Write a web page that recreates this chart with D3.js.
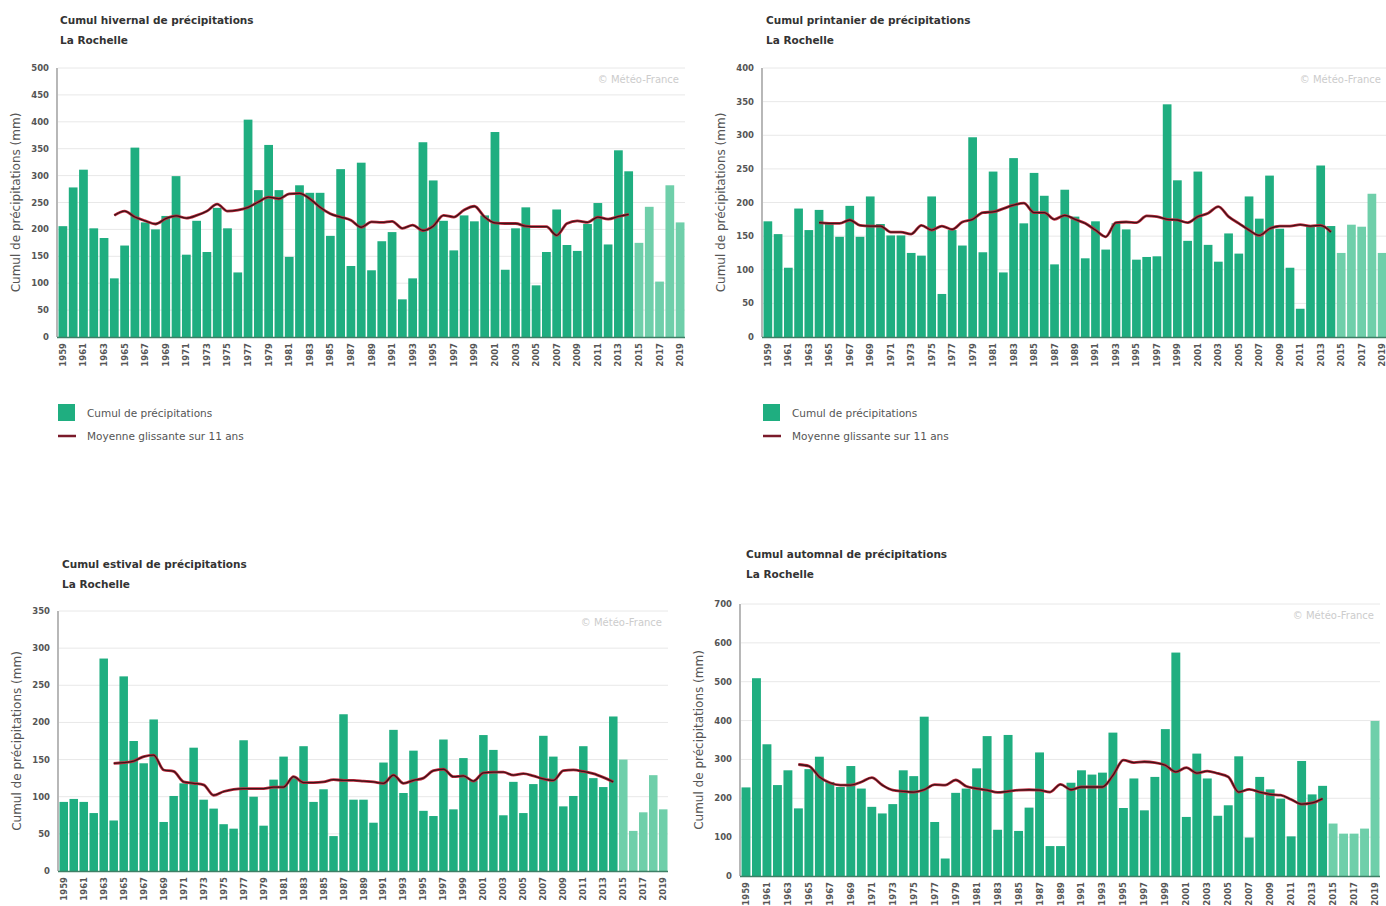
<!DOCTYPE html>
<html>
<head>
<meta charset="UTF-8">
<title>Cumuls saisonniers de précipitations - La Rochelle</title>
<script src="https://d3js.org/d3.v7.min.js"></script>
<style>
  body { margin: 0; background: #fff; }
  text { font-family: "DejaVu Sans", Verdana, sans-serif; }
</style>
</head>
<body>
<script>
// years 1959..2019
const years = d3.range(1959, 2020);
const movYears = d3.range(1964, 2015);
const lightFrom = 2015;

// winter
const hiver = [206,278,311,202,184,109,170,352,213,200, 225,299,153,216,158,240,202,120,404,273,
  357,273,149,282,268,268,188,312,132,324, 124,178,195,70,109,362,291,216,161,226,
  215,226,381,125,202,241,96,158,237,171, 160,210,249,172,347,308,175,242,103,282, 213];
const hiverMoy = [226,234,223,216,210,220,225,221,226,234, 247,234,236,241,251,260,257,266,267,257,
  241,229,223,217,204,214,213,215,202,208, 198,206,226,223,236,243,223,212,211,211,
  206,205,205,189,211,216,213,223,219,224, 228];

// spring
const printemps = [172,153,103,191,159,189,169,149,195,149, 209,168,151,151,125,121,209,64,159,136,
  297,126,246,96,266,169,244,210,108,219, 179,117,172,130,169,160,115,119,120,346,
  233,143,246,137,112,154,124,209,176,240, 161,103,42,164,255,165,125,167,164,213, 125];
const printempsMoy = [170,169,169,174,166,165,165,156,156,153, 166,159,165,160,171,175,185,186,191,196,
  199,185,185,175,181,175,169,159,149,170, 171,170,180,179,175,174,170,179,184,194,
  179,169,159,151,161,165,165,167,165,166, 156];

// summer
const ete = [93,97,93,78,286,68,262,175,145,204, 66,101,118,166,96,84,63,57,176,100,
  61,123,154,125,168,93,110,47,211,96, 96,65,146,190,105,162,81,74,177,83,
  152,122,183,163,75,120,78,117,182,154, 87,101,168,125,113,208,150,54,79,129, 83];
const eteMoy = [145,146,148,154,156,136,134,120,118,116, 102,107,110,111,111,111,113,113,127,119,
  119,120,123,122,122,121,120,118,129,118, 122,125,135,137,127,128,121,132,133,133,
  129,131,128,124,122,135,136,134,131,126, 120];

// autumn
const automne = [228,509,339,234,272,174,275,307,242,229, 283,225,178,161,185,272,257,410,139,45,
  214,225,277,360,119,363,116,176,318,77, 77,240,272,261,266,369,175,251,169,255,
  378,575,152,315,251,155,182,308,99,255, 223,199,102,296,210,232,135,109,109,122, 399];
const automneMoy = [287,283,255,240,234,234,242,253,234,221, 218,216,222,235,234,247,231,225,221,215,
  218,221,222,221,216,236,222,229,229,229, 259,298,292,294,292,285,268,279,265,270,
  264,255,216,223,216,210,208,197,185,188, 199];

const panels = [
  { title: "Cumul hivernal de précipitations", vals: hiver, moy: hiverMoy, max: 500, step: 50,
    x0: 58, x1: 685, yTop: 68, yBot: 337, tx: 60, ty: 20, legend: true },
  { title: "Cumul printanier de précipitations", vals: printemps, moy: printempsMoy, max: 400, step: 50,
    x0: 763, x1: 1387, yTop: 68, yBot: 337, tx: 766, ty: 20, legend: true },
  { title: "Cumul estival de précipitations", vals: ete, moy: eteMoy, max: 350, step: 50,
    x0: 59, x1: 668, yTop: 611, yBot: 871, tx: 62, ty: 564, legend: false },
  { title: "Cumul automnal de précipitations", vals: automne, moy: automneMoy, max: 700, step: 100,
    x0: 741, x1: 1380, yTop: 604, yBot: 876, tx: 746, ty: 554, legend: false }
];

const green = "#1fae80", lightGreen = "#6fcfaa";

const svg = d3.select("body").append("svg")
  .attr("width", 1386).attr("height", 906);

panels.forEach(p => {
  const g = svg.append("g");

  const x = d3.scaleBand().domain(years).range([p.x0, p.x1]).paddingInner(0.15).paddingOuter(0.05);
  const y = d3.scaleLinear().domain([0, p.max]).range([p.yBot, p.yTop]);
  const ticks = d3.range(0, p.max + 1, p.step);

  // titles
  g.append("text").attr("x", p.tx).attr("y", p.ty + 4)
    .attr("font-size", 10.5).attr("font-weight", "bold").attr("fill", "#333").text(p.title);
  g.append("text").attr("x", p.tx).attr("y", p.ty + 24)
    .attr("font-size", 10.5).attr("font-weight", "bold").attr("fill", "#333").text("La Rochelle");

  // grid
  g.selectAll(".grid").data(ticks.slice(1)).enter().append("line")
    .attr("x1", p.x0).attr("x2", p.x1)
    .attr("y1", d => y(d)).attr("y2", d => y(d))
    .attr("stroke", "#e8e8e8").attr("stroke-width", 1);

  // y labels
  g.selectAll(".ylab").data(ticks).enter().append("text")
    .attr("x", p.x0 - 9).attr("y", d => y(d) + 3)
    .attr("text-anchor", "end").attr("font-size", 8.5).attr("font-weight", "bold")
    .attr("fill", "#555").text(d => d);

  // y title
  g.append("text")
    .attr("transform", `translate(${p.x0 - 38},${(p.yTop + p.yBot) / 2}) rotate(-90)`)
    .attr("text-anchor", "middle").attr("font-size", 12).attr("fill", "#555")
    .text("Cumul de précipitations (mm)");

  // watermark
  g.append("text").attr("x", p.x1 - 6).attr("y", p.yTop + 15)
    .attr("text-anchor", "end").attr("font-size", 10).attr("fill", "#ccc")
    .text("© Météo-France");

  // bars
  g.selectAll(".bar").data(years).enter().append("rect")
    .attr("x", d => x(d))
    .attr("width", x.bandwidth())
    .attr("y", (d, i) => y(p.vals[i]))
    .attr("height", (d, i) => y(0) - y(p.vals[i]))
    .attr("fill", d => d >= lightFrom ? lightGreen : green);

  // axes lines
  g.append("line").attr("x1", p.x0 - 1).attr("x2", p.x0 - 1)
    .attr("y1", p.yTop).attr("y2", p.yBot).attr("stroke", "#888").attr("stroke-width", 1.2);
  g.append("line").attr("x1", p.x0 - 1).attr("x2", p.x1)
    .attr("y1", p.yBot + 0.5).attr("y2", p.yBot + 0.5).attr("stroke", "#3f7f66").attr("stroke-width", 1.5);

  // x labels every 2 years
  g.selectAll(".xlab").data(years.filter(d => (d - 1959) % 2 === 0)).enter().append("text")
    .attr("transform", d => `translate(${x(d) + x.bandwidth() / 2 + 3},${p.yBot + 6}) rotate(-90)`)
    .attr("text-anchor", "end").attr("font-size", 8.5).attr("font-weight", "bold")
    .attr("fill", "#555").text(d => d);

  // moving average
  const line = d3.line()
    .x(d => x(d.yr) + x.bandwidth() / 2)
    .y(d => y(d.v))
    .curve(d3.curveMonotoneX);
  const moyData = movYears.map((yr, i) => ({ yr: yr, v: p.moy[i] }));
  g.append("path").attr("d", line(moyData))
    .attr("fill", "none").attr("stroke", "#c22a3e").attr("stroke-width", 2.8);
  g.append("path").attr("d", line(moyData))
    .attr("fill", "none").attr("stroke", "#3a1518").attr("stroke-width", 1.3);

  // legend
  if (p.legend) {
    const lx = p.x0, ly = 404;
    g.append("rect").attr("x", lx).attr("y", ly).attr("width", 17).attr("height", 17).attr("fill", green);
    g.append("text").attr("x", lx + 29).attr("y", ly + 13).attr("font-size", 10.5).attr("fill", "#555")
      .text("Cumul de précipitations");
    g.append("line").attr("x1", lx).attr("x2", lx + 18).attr("y1", ly + 32).attr("y2", ly + 32)
      .attr("stroke", "#7a1a2a").attr("stroke-width", 2.5);
    g.append("text").attr("x", lx + 29).attr("y", ly + 36).attr("font-size", 10.5).attr("fill", "#555")
      .text("Moyenne glissante sur 11 ans");
  }
});
</script>
</body>
</html>
